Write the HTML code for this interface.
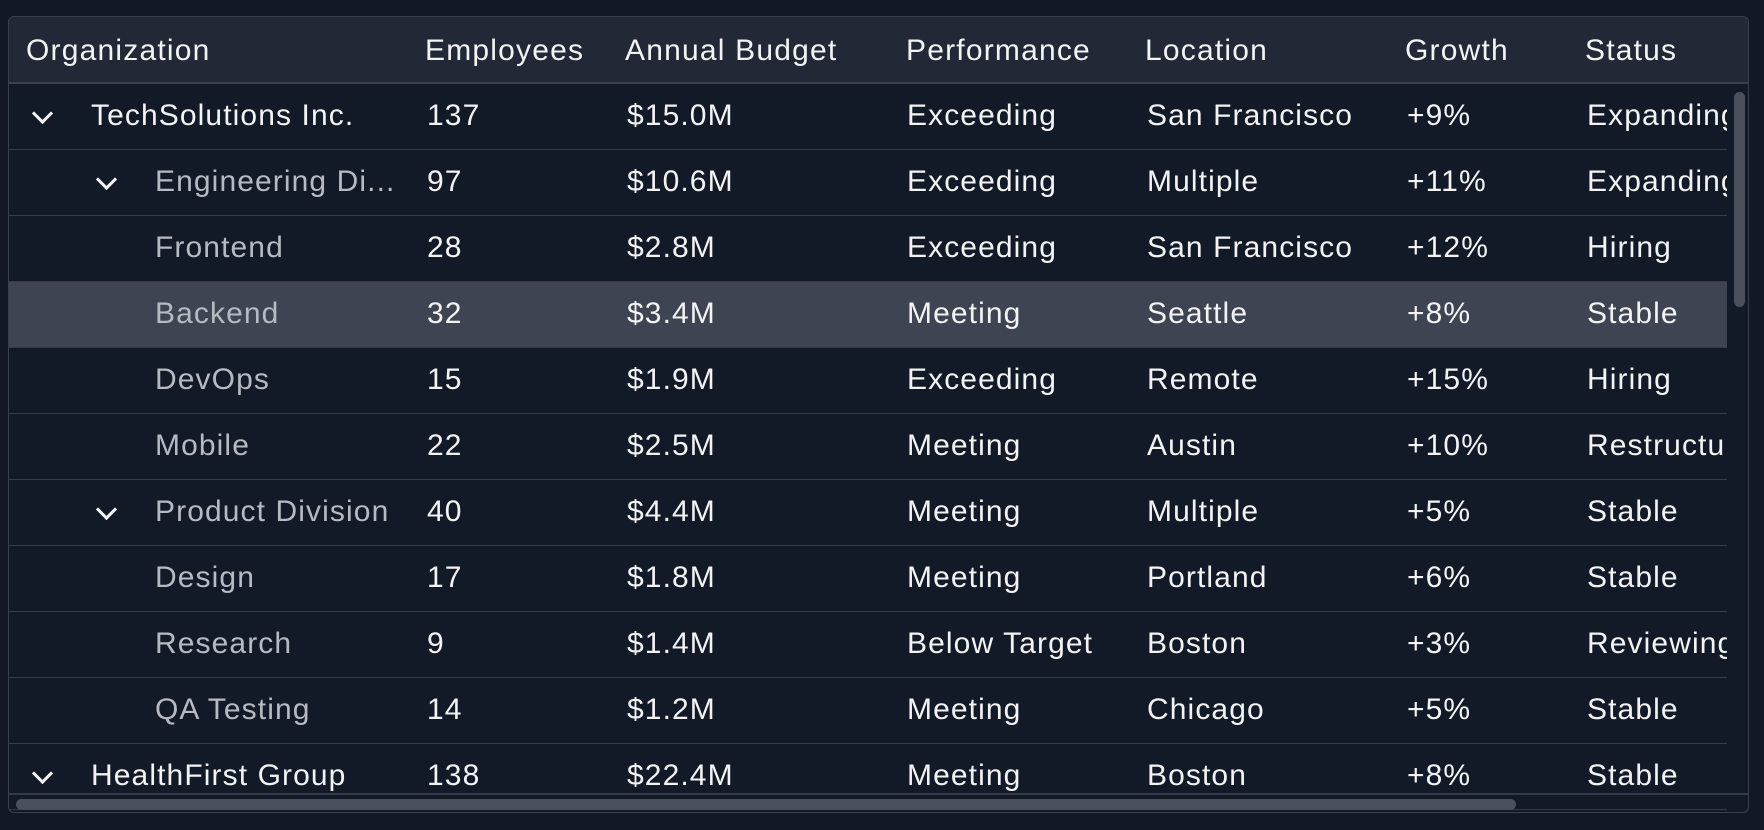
<!DOCTYPE html>
<html><head><style>
body{margin:0;width:1764px;height:830px;background:#121826;font-family:"Liberation Sans","DejaVu Sans",sans-serif;overflow:hidden;position:relative}
.box{position:absolute;left:8px;top:16px;width:1741px;height:797px;border:1.5px solid #3a404c;border-radius:6px;background:#131a27;overflow:hidden;box-sizing:border-box}
.hdr{position:absolute;left:0;top:0;width:100%;height:67px;background:#222836;border-bottom:2px solid #3a404c;box-sizing:border-box}
.t{position:absolute;white-space:nowrap;font-size:30px;letter-spacing:1.1px;color:#f2f3f5}
.h{top:17px;letter-spacing:1.2px}
.row{position:absolute;left:0;width:1718px;height:66px;border-bottom:1.5px solid #343a47;box-sizing:border-box;overflow:hidden}
.row .t{top:15px}
.sel{background:#3e4451}
.g{color:#b6bac2!important}
.chev{position:absolute;top:22px;width:12px;height:12px;border-right:3.5px solid #f2f3f5;border-bottom:3.5px solid #f2f3f5;transform:rotate(45deg)}
.vs{position:absolute;left:1725px;top:75px;width:11px;height:215px;background:#4a505c;border-radius:6px}
.hs{position:absolute;left:7px;top:782px;width:1500px;height:11px;background:#4a505c;border-radius:6px}
.hsb{position:absolute;left:0;top:776px;width:100%;height:2px;background:#343a47}
</style></head><body>
<div class="box">
<div class="hdr">
<span class="t h" style="left:17px">Organization</span>
<span class="t h" style="left:416px">Employees</span>
<span class="t h" style="left:616px">Annual Budget</span>
<span class="t h" style="left:897px">Performance</span>
<span class="t h" style="left:1136px">Location</span>
<span class="t h" style="left:1396px">Growth</span>
<span class="t h" style="left:1576px">Status</span>
</div>
<div id="rows"></div>
<div class="hsb"></div>
<div class="vs"></div>
<div class="hs"></div>
</div>
<script>
var d=[[0,1,"TechSolutions Inc.","137","$15.0M","Exceeding","San Francisco","+9%","Expanding"],
[1,1,"Engineering Di...","97","$10.6M","Exceeding","Multiple","+11%","Expanding"],
[2,0,"Frontend","28","$2.8M","Exceeding","San Francisco","+12%","Hiring"],
[2,0,"Backend","32","$3.4M","Meeting","Seattle","+8%","Stable"],
[2,0,"DevOps","15","$1.9M","Exceeding","Remote","+15%","Hiring"],
[2,0,"Mobile","22","$2.5M","Meeting","Austin","+10%","Restructu"],
[1,1,"Product Division","40","$4.4M","Meeting","Multiple","+5%","Stable"],
[2,0,"Design","17","$1.8M","Meeting","Portland","+6%","Stable"],
[2,0,"Research","9","$1.4M","Below Target","Boston","+3%","Reviewing"],
[2,0,"QA Testing","14","$1.2M","Meeting","Chicago","+5%","Stable"],
[0,1,"HealthFirst Group","138","$22.4M","Meeting","Boston","+8%","Stable"]];
var xs=[418,618,898,1138,1398,1578],h="";
d.forEach(function(r,i){
 var top=67+66*i;
 h+='<div class="row'+(i==3?' sel':'')+'" style="top:'+top+'px">';
 var nx=r[0]==0?82:146;
 if(r[1])h+='<div class="chev" style="left:'+(r[0]==0?26:90)+'px"></div>';
 h+='<span class="t'+(r[0]>0?' g':'')+'" style="left:'+nx+'px">'+r[2]+'</span>';
 for(var k=0;k<6;k++)h+='<span class="t" style="left:'+xs[k]+'px">'+r[3+k]+'</span>';
 h+='</div>';
});
document.getElementById('rows').innerHTML=h;
</script>
</body></html>
